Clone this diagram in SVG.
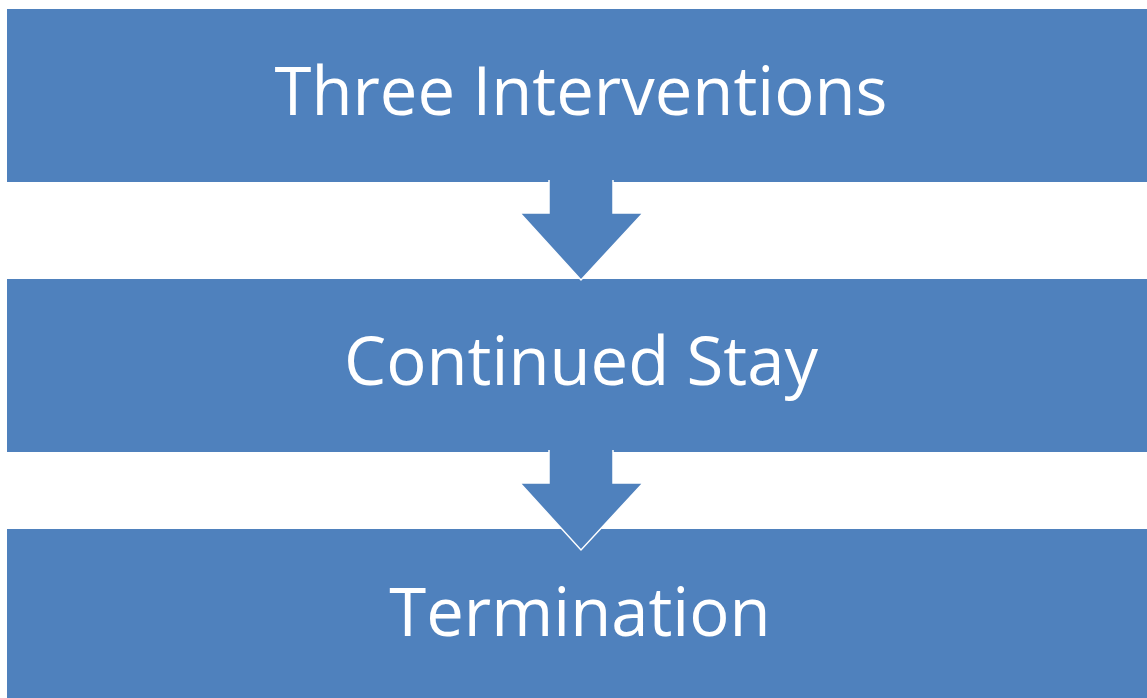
<svg xmlns="http://www.w3.org/2000/svg" width="1147" height="698" viewBox="0 0 1147 698">
<style>
.box{fill:#4F81BD;}
.lbl{font-family:"Open Sans","Liberation Sans",sans-serif;font-size:67px;fill:#FFFFFF;text-anchor:middle;}
.arr{fill:#4F81BD;stroke:#FFFFFF;stroke-width:1.5;stroke-linejoin:miter;}
</style>
<rect width="1147" height="698" fill="#FFFFFF"/>
<g id="node1"><rect class="box" x="7" y="9" width="1140" height="173"/><text class="lbl" x="581" y="115">Three Interventions</text></g>
<g id="node2"><rect class="box" x="7" y="279" width="1140" height="173"/><text class="lbl" x="581" y="385">Continued Stay</text></g>
<g id="node3"><rect class="box" x="7" y="529" width="1140" height="169"/><text class="lbl" x="580" y="636">Termination</text></g>
<g id="connectors">
<path class="arr" d="M549,180 L549,213 L520,213 L581,280 L643,213 L613,213 L613,180"/>
<path class="arr" d="M549,450 L549,483 L520,483 L581,550 L643,483 L613,483 L613,450"/>
</g>
</svg>
